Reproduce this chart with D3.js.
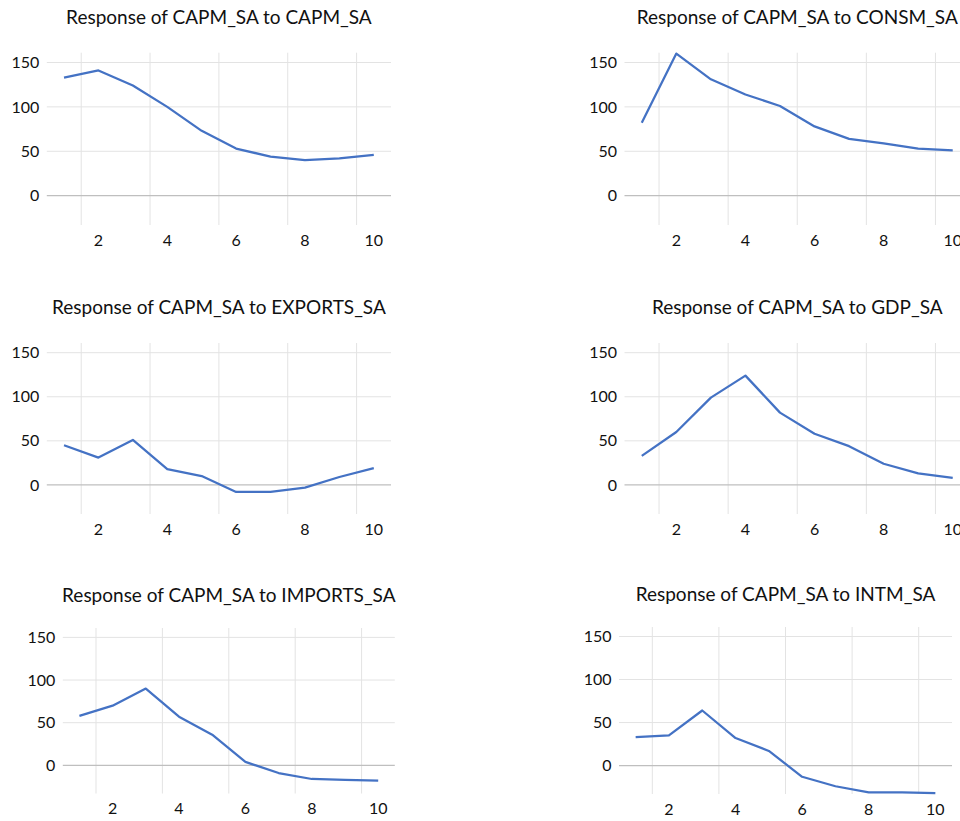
<!DOCTYPE html>
<html>
<head>
<meta charset="utf-8">
<script src="https://cdn.jsdelivr.net/npm/d3@7/dist/d3.min.js"></script>
<style>
  html, body { margin: 0; padding: 0; background: #fff; }
  svg { display: block; }
  .title { font-family: Lato, "Open Sans", sans-serif; font-size: 19px; fill: #111; }
  .axis text { font-family: Lato, "Open Sans", sans-serif; font-size: 16px; fill: #111; }
</style>
</head>
<body>
<svg id="chart" width="960" height="821"></svg>
<script>
// Impulse responses of CAPM_SA over a 10-period horizon
const steps = [1, 2, 3, 4, 5, 6, 7, 8, 9, 10];
const xTickValues = [2, 4, 6, 8, 10];
const yTickValues = [0, 50, 100, 150];

const toCapm    = [133, 141, 124, 100, 73, 53, 44, 40, 42, 46];
const toConsm   = [82, 160, 131, 114, 101, 78, 64, 59, 53, 51];
const toExports = [45, 31, 51, 18, 10, -8, -8, -3, 9, 19];
const toGdp     = [33, 60, 99, 124, 82, 58, 44, 24, 13, 8];
const toImports = [58, 70, 90, 57, 36, 4, -9, -16, -17, -18];
const toIntm    = [33, 35, 64, 32, 17, -13, -24, -31, -31, -32];

const titles = [
  "Response of CAPM_SA to CAPM_SA",
  "Response of CAPM_SA to CONSM_SA",
  "Response of CAPM_SA to EXPORTS_SA",
  "Response of CAPM_SA to GDP_SA",
  "Response of CAPM_SA to IMPORTS_SA",
  "Response of CAPM_SA to INTM_SA"
];
const seriesList = [toCapm, toConsm, toExports, toGdp, toImports, toIntm];

// plot-area boxes for the 3 x 2 grid of panels
const boxes = [
  { x0: 46.8,  x1: 391,   y0: 52.7, y1: 225,   ty: 24 },
  { x0: 624.5, x1: 970,   y0: 52.7, y1: 225,   ty: 24 },
  { x0: 46.8,  x1: 391,   y0: 343,  y1: 514,   ty: 314 },
  { x0: 624.5, x1: 970,   y0: 343,  y1: 514,   ty: 314 },
  { x0: 62.8,  x1: 394.8, y0: 628,  y1: 793.5, ty: 601.5 },
  { x0: 619,   x1: 952,   y0: 627,  y1: 794,   ty: 601 }
];
const yDomain = [-33, 161];

const svg = d3.select("#chart");

seriesList.forEach((values, i) => {
  const b = boxes[i];
  const g = svg.append("g");

  const x = d3.scaleBand().domain(steps).range([b.x0, b.x1]).padding(0);
  const y = d3.scaleLinear().domain(yDomain).range([b.y1, b.y0]);
  const cx = d => x(d) + x.bandwidth() / 2;

  // vertical gridlines on category boundaries, every second category
  g.append("g").selectAll("line")
    .data(xTickValues)
    .join("line")
      .attr("x1", d => x(d)).attr("x2", d => x(d))
      .attr("y1", b.y0).attr("y2", b.y1)
      .attr("stroke", "#e3e3e3").attr("stroke-width", 1);

  // horizontal gridlines
  g.append("g").selectAll("line")
    .data(yTickValues.filter(v => v !== 0))
    .join("line")
      .attr("x1", b.x0).attr("x2", b.x1)
      .attr("y1", d => y(d)).attr("y2", d => y(d))
      .attr("stroke", "#e3e3e3").attr("stroke-width", 1);

  // zero line
  g.append("line")
    .attr("x1", b.x0).attr("x2", b.x1)
    .attr("y1", y(0)).attr("y2", y(0))
    .attr("stroke", "#bfbfbf").attr("stroke-width", 1.2);

  // axes (labels only)
  const yAxis = g.append("g")
    .attr("class", "axis")
    .attr("transform", `translate(${b.x0},0)`)
    .call(d3.axisLeft(y).tickValues(yTickValues).tickSize(0).tickPadding(7.5));
  yAxis.select(".domain").remove();

  const xAxis = g.append("g")
    .attr("class", "axis")
    .attr("transform", `translate(0,${b.y1})`)
    .call(d3.axisBottom(x).tickValues(xTickValues).tickSize(0).tickPadding(9.5));
  xAxis.select(".domain").remove();

  // response line
  const line = d3.line().x((d, j) => cx(steps[j])).y(d => y(d));
  g.append("path")
    .datum(values)
    .attr("d", line)
    .attr("fill", "none")
    .attr("stroke", "#4472c4")
    .attr("stroke-width", 2.25)
    .attr("stroke-linejoin", "round");

  // panel title
  g.append("text")
    .attr("class", "title")
    .attr("x", (b.x0 + b.x1) / 2)
    .attr("y", b.ty)
    .attr("text-anchor", "middle")
    .text(titles[i]);
});
</script>
</body>
</html>
